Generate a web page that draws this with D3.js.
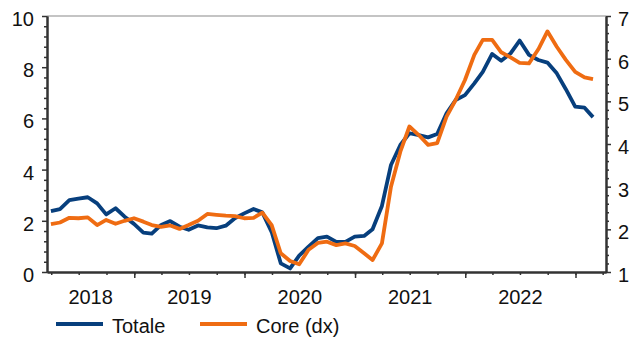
<!DOCTYPE html>
<html>
<head>
<meta charset="utf-8">
<script src="https://cdn.jsdelivr.net/npm/d3@7"></script>
<style>
  html, body { margin: 0; padding: 0; background: #fff; }
  svg { display: block; font-family: "Liberation Sans", Arial, sans-serif; }
  .tick text { font-size: 20px; fill: #111; }
</style>
</head>
<body>
<svg id="chart" width="631" height="337"></svg>
<script>
// Monthly observations, March 2018 to February 2023 (year-on-year %)
const startYear = 2018, startMonth = 2; // March 2018 (0-based month)
const totale = [
  2.38, 2.46, 2.81, 2.87, 2.92, 2.68, 2.25, 2.49, 2.16, 1.88,
  1.54, 1.50, 1.84, 1.99, 1.77, 1.65, 1.82, 1.74, 1.71, 1.81, 2.10, 2.29,
  2.46, 2.33, 1.56, 0.34, 0.14, 0.64, 0.99, 1.32, 1.38, 1.18, 1.18, 1.38,
  1.41, 1.67, 2.58, 4.18, 4.96, 5.42, 5.35, 5.26, 5.39, 6.20, 6.72, 6.91,
  7.37, 7.82, 8.52, 8.25, 8.54, 9.04, 8.48, 8.28, 8.18, 7.76, 7.14, 6.46,
  6.42, 6.05
];
const core = [
  2.12, 2.16, 2.27, 2.26, 2.28, 2.10, 2.22, 2.13, 2.20, 2.26,
  2.18, 2.10, 2.06, 2.09, 2.01, 2.10, 2.20, 2.36, 2.34, 2.32, 2.31, 2.26,
  2.27, 2.39, 2.10, 1.44, 1.26, 1.18, 1.52, 1.68, 1.71, 1.63, 1.67, 1.61,
  1.44, 1.28, 1.67, 3.00, 3.82, 4.41, 4.21, 3.98, 4.02, 4.64, 5.03, 5.50,
  6.09, 6.44, 6.44, 6.15, 6.03, 5.90, 5.89, 6.22, 6.64, 6.28, 5.97, 5.69,
  5.56, 5.52
];
const yearLabels = ["2018", "2019", "2020", "2021", "2022"];
const leftTicks = [0, 2, 4, 6, 8, 10];
const rightTicks = [1, 2, 3, 4, 5, 6, 7];
const seriesNames = ["Totale", "Core (dx)"];
const colors = ["#073F7D", "#EF6C12"];

// each value sits at the end of its month
const dates = totale.map((_, i) => new Date(startYear, startMonth + i + 1, 0));

const svg = d3.select("#chart");
const plotLeft = 47, plotRight = 606, plotTop = 16, plotBottom = 272;
const intFmt = d3.format("d");

const x = d3.scaleTime()
  .domain([new Date(2018, 2, 18), new Date(2023, 3, 12)])
  .range([plotLeft, plotRight]);
const yL = d3.scaleLinear().domain([0, 10]).range([plotBottom, plotTop]);
const yR = d3.scaleLinear().domain([1, 7]).range([plotBottom, plotTop]);

// top frame line
svg.append("line")
  .attr("x1", plotLeft).attr("x2", plotRight).attr("y1", plotTop).attr("y2", plotTop)
  .attr("stroke", "#8a8a8a").attr("stroke-width", 1.2);

function styleAxis(g) {
  g.select(".domain").attr("stroke", "#333").attr("stroke-width", 2);
  g.selectAll(".tick line").attr("stroke", "#333").attr("stroke-width", 1.5);
}

// left axis: minor then major ticks
const leftMinor = d3.range(0, 10.001, 0.4).filter(v => Math.abs(v / 2 - Math.round(v / 2)) > 1e-6);
svg.append("g").attr("transform", `translate(${plotLeft},0)`)
  .call(d3.axisLeft(yL).tickValues(leftMinor).tickSize(3).tickFormat("").tickSizeOuter(0))
  .call(styleAxis);
svg.append("g").attr("transform", `translate(${plotLeft},0)`)
  .call(d3.axisLeft(yL).tickValues(leftTicks).tickFormat(intFmt).tickSize(5).tickPadding(8).tickSizeOuter(0))
  .call(styleAxis)
  .call(g => g.selectAll(".tick text").attr("y", 3));

// right axis
const rightMinor = d3.range(1, 7.001, 0.2).filter(v => Math.abs(v - Math.round(v)) > 1e-6);
svg.append("g").attr("transform", `translate(${plotRight},0)`)
  .call(d3.axisRight(yR).tickValues(rightMinor).tickSize(3).tickFormat("").tickSizeOuter(0))
  .call(styleAxis);
svg.append("g").attr("transform", `translate(${plotRight},0)`)
  .call(d3.axisRight(yR).tickValues(rightTicks).tickFormat(intFmt).tickSize(5).tickPadding(7).tickSizeOuter(0))
  .call(styleAxis)
  .call(g => g.selectAll(".tick text").attr("y", 3));

// bottom axis: quarterly minor ticks, yearly major ticks
const quarters = d3.timeMonth.every(3).range(x.domain()[0], x.domain()[1]);
const years = d3.timeYear.range(x.domain()[0], x.domain()[1]);
svg.append("g").attr("transform", `translate(0,${plotBottom})`)
  .call(d3.axisBottom(x).tickValues(quarters).tickSize(3).tickFormat("").tickSizeOuter(0))
  .call(styleAxis);
svg.append("g").attr("transform", `translate(0,${plotBottom})`)
  .call(d3.axisBottom(x).tickValues(years).tickSize(6).tickFormat("").tickSizeOuter(0))
  .call(styleAxis);

// year labels centred in the visible part of each year
const [d0, d1] = x.domain();
svg.append("g").selectAll("text").data(yearLabels).join("text")
  .attr("x", d => {
    const a = Math.max(+d0, +new Date(+d, 0, 1));
    const b = Math.min(+d1, +new Date(+d + 1, 0, 1));
    return (x(new Date(a)) + x(new Date(b))) / 2;
  })
  .attr("y", 304)
  .attr("text-anchor", "middle")
  .attr("font-size", 20).attr("fill", "#111")
  .text(d => d);

// series lines
const lineL = d3.line().x((d, i) => x(dates[i])).y(d => yL(d));
const lineR = d3.line().x((d, i) => x(dates[i])).y(d => yR(d));
svg.append("path").datum(totale).attr("d", lineL)
  .attr("fill", "none").attr("stroke", colors[0]).attr("stroke-width", 3.8)
  .attr("stroke-linejoin", "round");
svg.append("path").datum(core).attr("d", lineR)
  .attr("fill", "none").attr("stroke", colors[1]).attr("stroke-width", 3.8)
  .attr("stroke-linejoin", "round");

// legend
const legendX = [56, 200];
const leg = svg.append("g").selectAll("g").data(seriesNames).join("g")
  .attr("transform", (d, i) => `translate(${legendX[i]},324)`);
leg.append("line").attr("x1", 0).attr("x2", 47).attr("y1", 0).attr("y2", 0)
  .attr("stroke", (d, i) => colors[i]).attr("stroke-width", 4);
leg.append("text").attr("x", 56).attr("y", 8.5)
  .attr("font-size", 20).attr("fill", "#111").text(d => d);
</script>
</body>
</html>
